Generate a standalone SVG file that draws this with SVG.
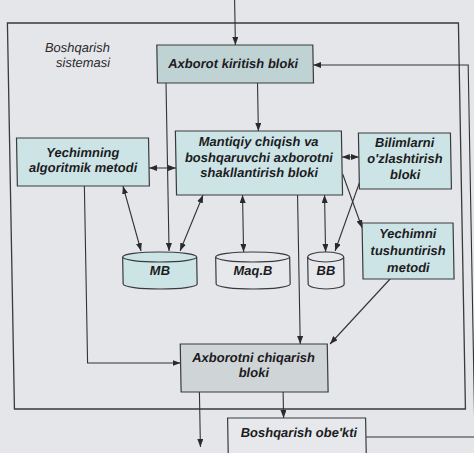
<svg xmlns="http://www.w3.org/2000/svg" width="474" height="453" viewBox="0 0 474 453">
  <style>
    .box { stroke: #3a3a3c; stroke-width: 1.2; }
    .blue { fill: #cde4e6; }
    .in { fill: #bfd2d4; }
    .out { fill: #cfd4d7; }
    .plain { fill: #e7e8ec; }
    .frame { fill: none; stroke: #3a3a3c; stroke-width: 1.3; }
    .lbl { font-family: "Liberation Sans", Arial, sans-serif; font-size: 13px; font-style: italic; font-weight: bold; fill: #1c1c1e; text-anchor: middle; }
    .note { font-family: "Liberation Sans", Arial, sans-serif; font-size: 13px; font-style: italic; fill: #2a2a2c; text-anchor: end; }
    .cn { fill: none; stroke: #333335; stroke-width: 1.1; }
    .one { marker-end: url(#ah); }
    .two { marker-start: url(#ah); marker-end: url(#ah); }
  </style>
  <defs>
    <marker id="ah" viewBox="0 0 8 6" refX="8" refY="3" markerWidth="8" markerHeight="6" markerUnits="userSpaceOnUse" orient="auto-start-reverse">
      <path d="M0,0 L8,3 L0,6 z" fill="#2a2a2c"/>
    </marker>
  </defs>

  <rect width="474" height="453" fill="#e5e6ea"/>

  <g transform="skewX(1.04)">
    <!-- control system boundary -->
    <rect id="frame" class="frame" x="7" y="23" width="451" height="386"/>
    <g id="caption">
      <text class="note" x="109" y="52">Boshqarish</text>
      <text class="note" x="109" y="67">sistemasi</text>
    </g>

    <g id="connectors">
      <path class="cn one" d="M234.6,0 V45"/>
      <path class="cn one" d="M164.5,83 V251"/>
      <path class="cn one" d="M256,83 V131"/>
      <path class="cn two" d="M146,168 H173"/>
      <path class="cn two" d="M339,157 H356"/>
      <path class="cn two" d="M119.6,186 L136.5,251"/>
      <path class="cn two" d="M199.5,195 L175.5,251"/>
      <path class="cn two" d="M239,195 V252"/>
      <path class="cn two" d="M321,195 V252"/>
      <path class="cn one" d="M294,195 V344"/>
      <path class="cn one" d="M339.5,174 L358,228"/>
      <path class="cn one" d="M356,183 L330.5,251"/>
      <path class="cn one" d="M385,279 L323.8,344"/>
      <path class="cn one" d="M81,186 V363 H174"/>
      <path class="cn one" d="M192.3,392 V447"/>
      <path class="cn one" d="M276,392 V418"/>
      <path class="cn one" d="M358,437 H467 V65 H312"/>
    </g>

    <g id="input-block">
      <rect class="box in" x="156" y="45" width="156" height="38"/>
      <text class="lbl" x="232" y="68">Axborot kiritish bloki</text>
    </g>

    <g id="algorithmic-method">
      <rect class="box blue" x="14" y="138" width="132" height="48"/>
      <text class="lbl" x="80" y="157">Yechimning</text>
      <text class="lbl" x="80" y="172">algoritmik metodi</text>
    </g>

    <g id="logic-block">
      <rect class="box blue" x="173" y="131" width="166" height="64"/>
      <text class="lbl" x="256" y="146">Mantiqiy chiqish va</text>
      <text class="lbl" x="256" y="162">boshqaruvchi axborotni</text>
      <text class="lbl" x="256" y="177">shakllantirish bloki</text>
    </g>

    <g id="learning-block">
      <rect class="box blue" x="356" y="133" width="92" height="56"/>
      <text class="lbl" x="402" y="147">Bilimlarni</text>
      <text class="lbl" x="402" y="163">o'zlashtirish</text>
      <text class="lbl" x="402" y="179">bloki</text>
    </g>

    <g id="explanation-method">
      <rect class="box blue" x="358" y="223" width="91" height="56"/>
      <text class="lbl" x="403.5" y="238">Yechimni</text>
      <text class="lbl" x="403.5" y="255">tushuntirish</text>
      <text class="lbl" x="403.5" y="272">metodi</text>
    </g>

    <g id="db-mb">
      <path class="box blue" d="M118,257 A37,5 0 0,1 192,257 V284 A37,5 0 0,1 118,284 Z"/>
      <path class="box" fill="none" d="M118,257 A37,5 0 0,0 192,257"/>
      <text class="lbl" x="155" y="275">MB</text>
    </g>

    <g id="db-maqb">
      <path class="box plain" d="M211,257 A37,5 0 0,1 285,257 V284 A37,5 0 0,1 211,284 Z"/>
      <path class="box" fill="none" d="M211,257 A37,5 0 0,0 285,257"/>
      <text class="lbl" x="248" y="275">Maq.B</text>
    </g>

    <g id="db-bb">
      <path class="box plain" d="M303,257 A18,5 0 0,1 339,257 V284 A18,5 0 0,1 303,284 Z"/>
      <path class="box" fill="none" d="M303,257 A18,5 0 0,0 339,257"/>
      <text class="lbl" x="321" y="275">BB</text>
    </g>

    <g id="output-block">
      <rect class="box out" x="174" y="344" width="147" height="48"/>
      <text class="lbl" x="247" y="362">Axborotni chiqarish</text>
      <text class="lbl" x="247" y="377">bloki</text>
    </g>

    <g id="control-object">
      <rect class="box plain" x="220" y="418" width="138" height="45"/>
      <text class="lbl" x="291" y="437">Boshqarish obe'kti</text>
    </g>
  </g>
</svg>
